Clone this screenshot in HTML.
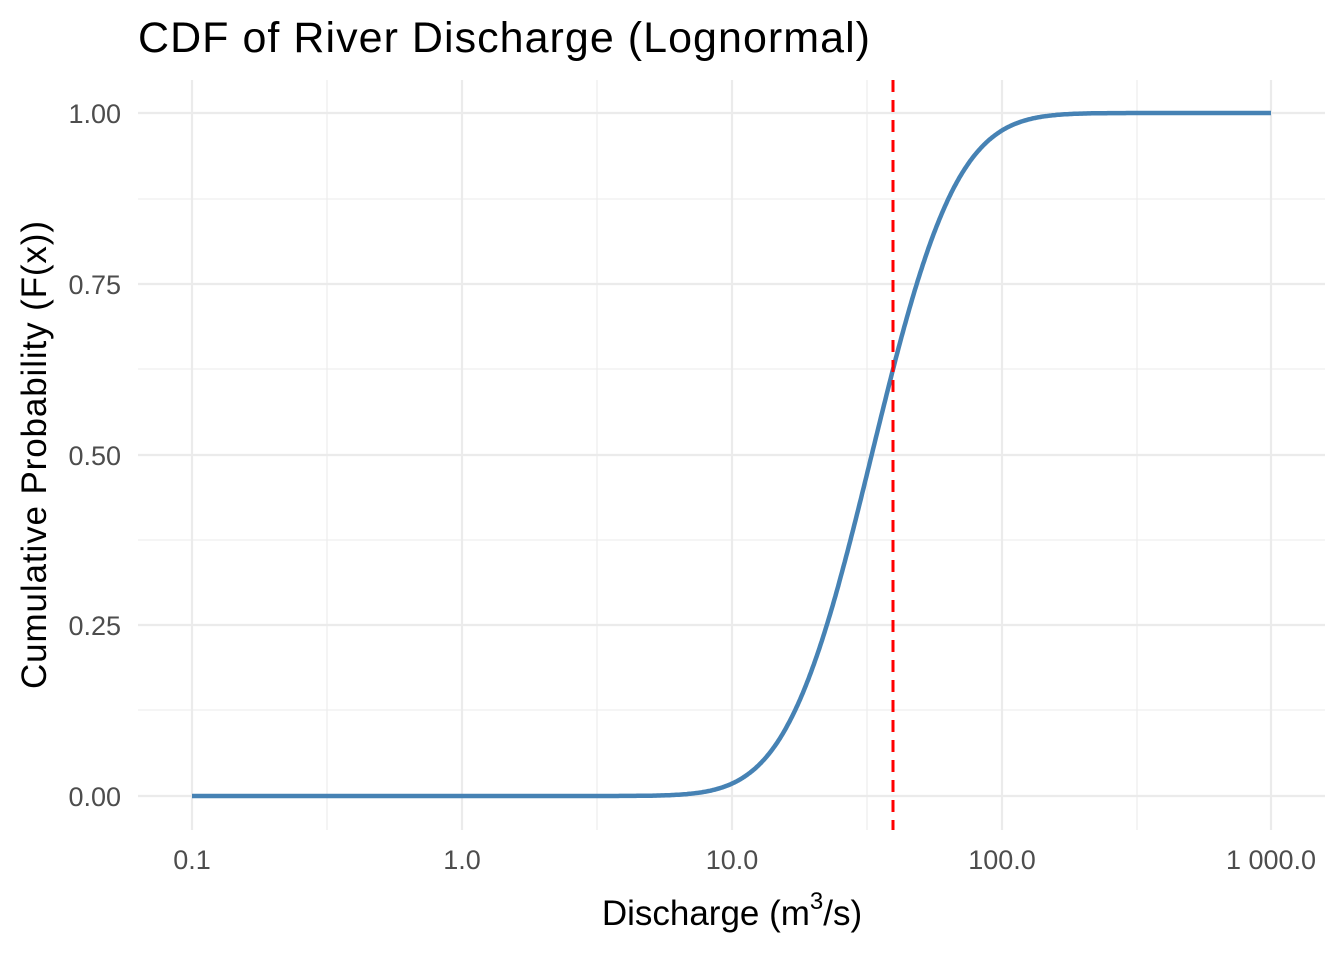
<!DOCTYPE html>
<html><head><meta charset="utf-8"><style>
html,body{margin:0;padding:0;background:#fff;}
svg text{font-family:"Liberation Sans",sans-serif;}
</style></head><body>
<svg id="s" width="1344" height="960" viewBox="0 0 1344 960" xmlns="http://www.w3.org/2000/svg">
<rect width="1344" height="960" fill="#fff"/>
<g stroke="#ebebeb" stroke-width="1.1">
<line x1="138" x2="1325" y1="710" y2="710"/><line x1="138" x2="1325" y1="540" y2="540"/>
<line x1="138" x2="1325" y1="369" y2="369"/><line x1="138" x2="1325" y1="199" y2="199"/>
<line y1="80" y2="830" x1="327" x2="327"/><line y1="80" y2="830" x1="597" x2="597"/>
<line y1="80" y2="830" x1="867" x2="867"/><line y1="80" y2="830" x1="1137" x2="1137"/>
</g>
<g stroke="#ebebeb" stroke-width="2.2">
<line x1="138" x2="1325" y1="796" y2="796"/><line x1="138" x2="1325" y1="625" y2="625"/>
<line x1="138" x2="1325" y1="455" y2="455"/><line x1="138" x2="1325" y1="284" y2="284"/>
<line x1="138" x2="1325" y1="113" y2="113"/>
<line y1="80" y2="830" x1="192" x2="192"/><line y1="80" y2="830" x1="462" x2="462"/>
<line y1="80" y2="830" x1="732" x2="732"/><line y1="80" y2="830" x1="1002" x2="1002"/>
<line y1="80" y2="830" x1="1271" x2="1271"/>
</g>
<path id="curve" d="" fill="none" stroke="#4682B4" stroke-width="4.5" stroke-linejoin="round"/>
<line x1="893" x2="893" y1="80" y2="830" stroke="#ff0000" stroke-width="3" stroke-dasharray="12,8"/>
<g fill="#4d4d4d" font-size="27" text-anchor="end">
<text x="121" y="806">0.00</text><text x="121" y="635">0.25</text>
<text x="121" y="465">0.50</text><text x="121" y="294">0.75</text><text x="121" y="123">1.00</text>
</g>
<g fill="#4d4d4d" font-size="27" text-anchor="middle">
<text x="192" y="869">0.1</text><text x="462" y="869">1.0</text><text x="732" y="869">10.0</text>
<text x="1002" y="869">100.0</text><text x="1271" y="869">1 000.0</text>
</g>
<text x="138" y="52" font-size="43" fill="#000" textLength="732">CDF of River Discharge (Lognormal)</text>
<text x="732" y="925" font-size="35" text-anchor="middle" fill="#000">Discharge (m<tspan font-size="24" dy="-16">3</tspan><tspan dy="16">/s)</tspan></text>
<text transform="translate(46,455) rotate(-90)" font-size="35" text-anchor="middle" fill="#000" textLength="468">Cumulative Probability (F(x))</text>
</svg>
<script>
function erf(x){var s=x<0?-1:1;x=Math.abs(x);var t=1/(1+0.3275911*x);
var y=1-(((((1.061405429*t-1.453152027)*t)+1.421413741)*t-0.284496736)*t+0.254829592)*t*Math.exp(-x*x);return s*y;}
var mu=3.5,sd=0.57,d="";
for(var i=0;i<=800;i++){var lx=-1+4*i/800;var x=Math.pow(10,lx);
var p=0.5*(1+erf((Math.log(x)-mu)/(sd*Math.SQRT2)));
var px=192+(lx+1)*269.75,py=796-p*683;d+=(i?"L":"M")+px.toFixed(1)+","+py.toFixed(1);}
document.getElementById("curve").setAttribute("d",d);
</script>
</body></html>
